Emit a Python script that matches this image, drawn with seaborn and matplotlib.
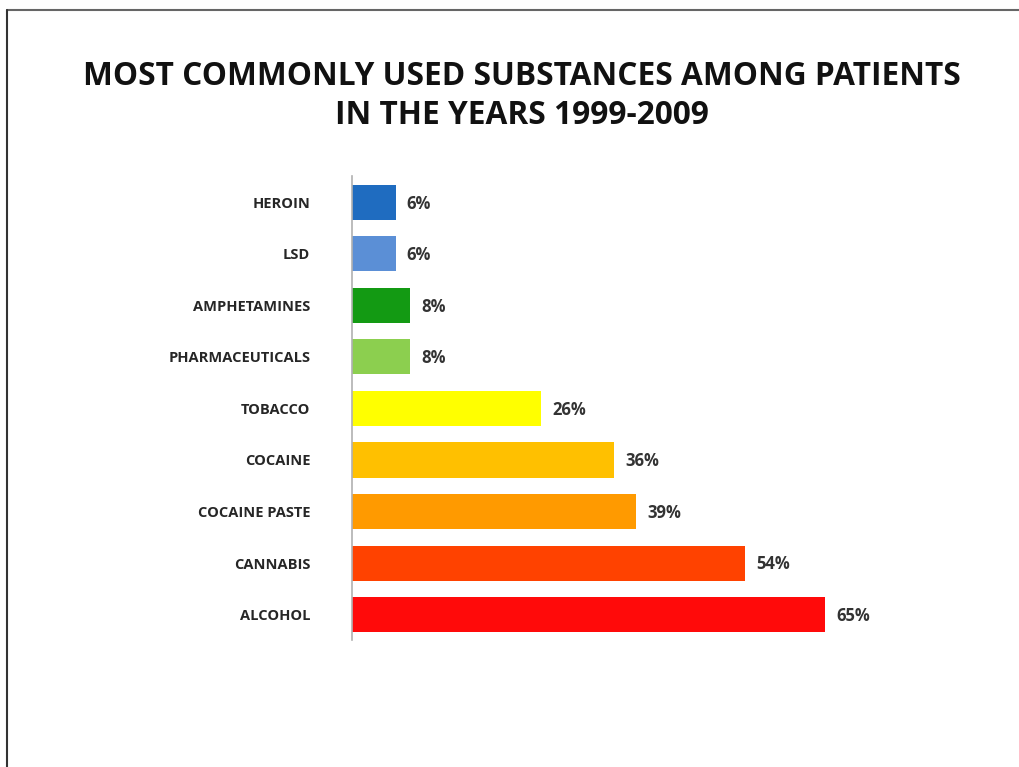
import matplotlib
matplotlib.use("Agg")
import matplotlib.pyplot as plt
import seaborn as sns
import pandas as pd
from matplotlib.lines import Line2D

categories = ["HEROIN", "LSD", "AMPHETAMINES", "PHARMACEUTICALS", "TOBACCO",
              "COCAINE", "COCAINE PASTE", "CANNABIS", "ALCOHOL"]
values = [6, 6, 8, 8, 26, 36, 39, 54, 65]
colors = ["#1f6cc0", "#5b8fd6", "#139a13", "#8ccf4f", "#ffff00",
          "#ffc000", "#ff9a00", "#ff4200", "#ff0a0a"]
title = "MOST COMMONLY USED SUBSTANCES AMONG PATIENTS\nIN THE YEARS 1999-2009"

sns.set_theme(style="white")
plt.rcParams["font.family"] = ["Open Sans", "DejaVu Sans"]

df = pd.DataFrame({"substance": categories, "pct": values})

fig = plt.figure(figsize=(10.20, 7.67), dpi=100)
ax = fig.add_axes([0.345, 0.165, 0.50, 0.605])

sns.barplot(data=df, y="substance", x="pct", hue="substance",
            palette=colors, orient="h", width=0.68, legend=False, ax=ax,
            edgecolor="none", saturation=1)

for i, v in enumerate(values):
    ax.annotate(f"{v}%", xy=(v, i), xytext=(8, -1), textcoords="offset points",
                va="center", ha="left", fontsize=12, fontweight="bold",
                color="#333333")

ax.set_xlim(0, 70)
ax.set_xlabel("")
ax.set_ylabel("")
ax.set_xticks([])
ax.tick_params(axis="y", length=0, pad=30)
for lab in ax.get_yticklabels():
    lab.set_fontweight("bold")
    lab.set_fontsize(10.5)
    lab.set_color("#262626")
for s in ["top", "right", "bottom"]:
    ax.spines[s].set_visible(False)
ax.spines["left"].set_color("#b0b0b0")
ax.spines["left"].set_linewidth(1.2)

fig.text(0.512, 0.875, title, ha="center", va="center", fontsize=22.8,
         fontweight="bold", color="#111111", linespacing=1.25)

# slide frame
fig.add_artist(Line2D([7/1020, 1.0], [1 - 10/767, 1 - 10/767],
                      transform=fig.transFigure, color="#666666", lw=1.5))
fig.add_artist(Line2D([7/1020, 7/1020], [0, 1 - 10/767],
                      transform=fig.transFigure, color="#333333", lw=1.5))

fig.savefig("out.png", dpi=100, facecolor="white")
